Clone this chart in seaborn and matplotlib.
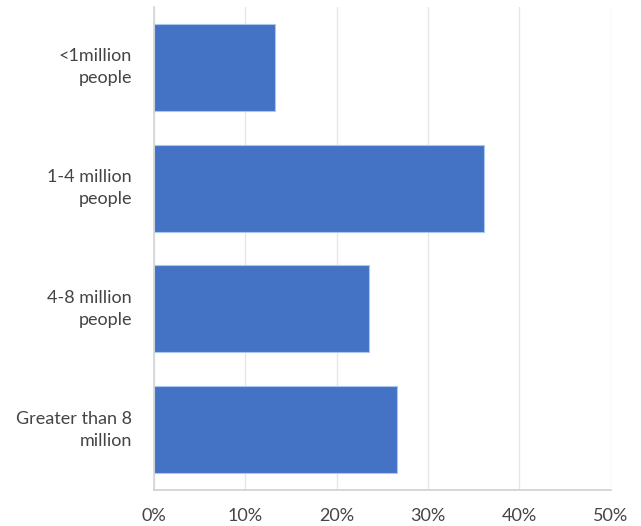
import matplotlib
matplotlib.use("Agg")
import matplotlib.pyplot as plt
import seaborn as sns
import pandas as pd

# Survey responses by metro population size (percent of respondents)
categories = ["<1million\npeople", "1-4 million\npeople", "4-8 million\npeople", "Greater than 8\nmillion"]
percentages = [13.2, 36.1, 23.5, 26.6]
x_ticks = [0, 10, 20, 30, 40, 50]
x_tick_labels = ["0%", "10%", "20%", "30%", "40%", "50%"]

df = pd.DataFrame({"category": categories, "percent": percentages})

sns.set_theme(style="white")
plt.rcParams["font.family"] = ["Lato", "DejaVu Sans"]

fig = plt.figure(figsize=(6.41, 5.26), dpi=100)
ax = fig.add_axes([0.2403, 0.0684, 0.7124, 0.9183])

sns.barplot(data=df, x="percent", y="category", orient="h", color="#4472C4",
            saturation=1, width=0.72, edgecolor="#a9c8ec", linewidth=0.8, ax=ax)

ax.set_xlim(0, 50)
ax.set_ylim(3.5, -0.5)
ax.set_xticks(x_ticks)
ax.set_xticklabels(x_tick_labels)
ax.set_xlabel("")
ax.set_ylabel("")

ax.grid(axis="x", color="#e6e6e6", linewidth=1.0)
ax.set_axisbelow(True)
for side in ("top", "right"):
    ax.spines[side].set_visible(False)
ax.spines["left"].set_color("#d4d4d4")
ax.spines["left"].set_linewidth(1.2)
ax.spines["bottom"].set_color("#cfcfcf")
ax.spines["bottom"].set_linewidth(1.2)

ax.tick_params(axis="both", length=0, colors="#444444", labelsize=13)
ax.tick_params(axis="y", pad=16)
ax.tick_params(axis="x", pad=13)
for lbl in ax.get_yticklabels():
    lbl.set_horizontalalignment("right")
    lbl.set_verticalalignment("center")
    lbl.set_multialignment("right")
    lbl.set_linespacing(1.45)

fig.savefig("out.png", dpi=100, facecolor="white")
